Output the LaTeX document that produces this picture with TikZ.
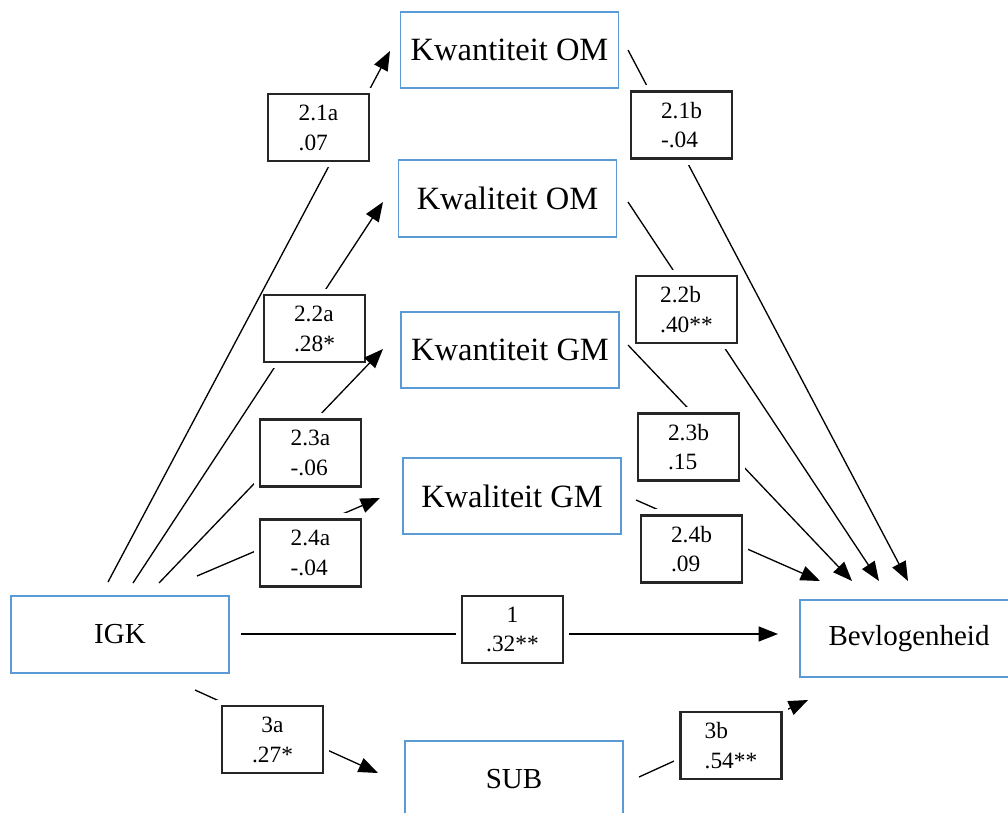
\documentclass[tikz,border=0pt]{standalone}
\usepackage{fontspec}
\setmainfont{Liberation Serif}
\usetikzlibrary{arrows.meta}
\definecolor{varblue}{RGB}{91,155,213}
\tikzset{
  var/.style={draw=varblue, line width=0.9pt, minimum width=4.36cm, minimum height=1.53cm, inner sep=0pt, font=\fontsize{16.5}{20}\selectfont},
  med/.style={var, font=\fontsize{18.5}{22}\selectfont},
  lab/.style={draw=black!85, line width=1.2pt, fill=white, preaction={draw=white, line width=7pt}, minimum width=2.02cm, minimum height=1.34cm, inner sep=0pt, align=left, font=\fontsize{13.3}{17}\selectfont},
  pad/.style={line width=0.75pt, -{Triangle[length=11pt,width=8.5pt]}},
}
\begin{document}
\begin{tikzpicture}[x=0.02cm, y=-0.02cm]
  \useasboundingbox (0,0) rectangle (1008,812);
  % variables
  \node[med] (kwom) at (509.5,50) {Kwantiteit OM};
  \node[med] (klom) at (507.5,198.5) {Kwaliteit OM};
  \node[med] (kwgm) at (510,350) {Kwantiteit GM};
  \node[med] (klgm) at (512,496) {Kwaliteit GM};
  \node[var] (igk) at (120,634.5) {IGK};
  \node[var] (bevl) at (909,638.5) {Bevlogenheid};
  \node[var] (sub) at (514,779) {SUB};
  % free ends of the paths
  \coordinate (s21) at (108,582);  \coordinate (t21) at (390,51);
  \coordinate (s22) at (133,583);  \coordinate (t22) at (383,202);
  \coordinate (s23) at (159,583);  \coordinate (t23) at (383,349);
  \coordinate (s24) at (197,576);  \coordinate (t24) at (380,498);
  \coordinate (u21) at (628,50);   \coordinate (e21) at (908,581);
  \coordinate (u22) at (628,202);  \coordinate (e22) at (879,581);
  \coordinate (u23) at (628,345);  \coordinate (e23) at (852,581);
  \coordinate (u24) at (636,500);  \coordinate (e24) at (820,581);
  \coordinate (d1) at (241,634);   \coordinate (e1) at (778,634);
  \coordinate (s3) at (195,690);   \coordinate (t3) at (378,773);
  \coordinate (u3) at (639,777);   \coordinate (e3) at (808,700);
  % a-paths
  \draw[pad] (s22) -- (t22);
  \node[lab] (l22a) at (314.5,328.5) {2.2a\\.28*};
  \draw[pad] (s23) -- (t23);
  \node[lab] (l23a) at (310.5,453) {2.3a\\-.06};
  \draw[pad] (s24) -- (t24);
  \node[lab] (l24a) at (310.5,553) {2.4a\\-.04};
  \draw[pad] (s21) -- (t21);
  \node[lab] (l21a) at (318.5,127.5) {2.1a\\.07};
  % b-paths
  \draw[pad] (u21) -- (e21);
  \node[lab] (l21b) at (681.5,125) {2.1b\\-.04};
  \draw[pad] (u22) -- (e22);
  \node[lab] (l22b) at (686.5,309.5) {2.2b\\ .40**};
  \draw[pad] (u23) -- (e23);
  \node[lab] (l23b) at (688.5,447) {2.3b\\.15};
  \draw[pad] (u24) -- (e24);
  \node[lab] (l24b) at (691.5,549) {2.4b\\.09};
  % direct path and SUB
  \draw[pad] (d1) -- (e1);
  \node[lab, align=center] (l1) at (512.5,629.5) {1\\ .32**};
  \draw[pad] (s3) -- (t3);
  \node[lab, align=center] (l3a) at (272.5,739.5) {3a\\.27*};
  \draw[pad] (u3) -- (e3);
  \node[lab] (l3b) at (731,745.5) {3b\\.54**};
\end{tikzpicture}
\end{document}
